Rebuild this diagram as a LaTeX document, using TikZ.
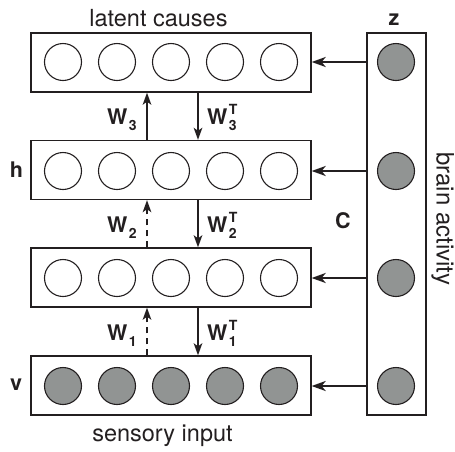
\documentclass[tikz,border=0pt]{standalone}
\usepackage{fontspec}
\setmainfont{TeX Gyre Heros}
\usetikzlibrary{arrows.meta,calc}
\definecolor{unitgray}{RGB}{145,148,147}
\definecolor{ink}{RGB}{35,31,32}
\newcommand\txtfont{\fontsize{23.5}{28}\selectfont}
\newcommand\sidefont{\fontsize{24}{28}\selectfont}
\newcommand\lblfont{\fontsize{21.5}{25}\selectfont\bfseries}
\newcommand\subfont{\fontsize{14}{16}\selectfont\bfseries}
\newcommand\wsub[1]{W\kern1.5pt\raisebox{-6pt}{\subfont #1}}
\newcommand\wsubt[1]{W\kern1.5pt\rlap{\raisebox{10pt}{\subfont T}}\raisebox{-6pt}{\subfont #1}}
\begin{document}
\begin{tikzpicture}[x=1pt,y=-1pt,
  layer/.style={draw=ink,line width=1.3pt,minimum width=280pt,minimum height=59pt,inner sep=0pt},
  unit/.style={circle,draw=ink,line width=1.1pt,minimum size=37pt,inner sep=0pt,fill=white},
  obs/.style={unit,fill=unitgray},
  harrow/.style={draw=ink,line width=2.2pt,-{Stealth[length=14pt,width=10pt,inset=4pt]}},
  varrow/.style={draw=ink,line width=2pt,-{Stealth[length=12pt,width=8.5pt,inset=3pt]}},
  dashedarrow/.style={varrow,dash pattern=on 6pt off 5pt},
  txt/.style={font=\txtfont,text=ink,inner sep=0pt,anchor=base},
  lbl/.style={font=\lblfont,text=ink,inner sep=0pt,anchor=base},
  wlbl/.style={font=\lblfont,text=ink,inner sep=0pt,anchor=base west}]
\useasboundingbox (0,0) rectangle (455,451);

% four layers of units
\node[layer] (L1) at (171,62.5) {};
\node[layer] (L2) at (171,170) {};
\node[layer] (L3) at (171,277.5) {};
\node[layer] (L4) at (171,385.5) {};
\foreach \i/\x in {1/63,2/117,3/171,4/225,5/279}{
  \node[unit] (u1-\i) at (\x,62) {};
  \node[unit] (u2-\i) at (\x,171) {};
  \node[unit] (u3-\i) at (\x,278) {};
  \node[obs]  (u4-\i) at (\x,386) {};
}

% brain activity column
\node[draw=ink,line width=1.3pt,minimum width=59pt,minimum height=382pt,inner sep=0pt] (Z) at (396.5,224) {};
\node[obs] (z1) at (396,62) {};
\node[obs] (z2) at (396,171) {};
\node[obs] (z3) at (396,278) {};
\node[obs] (z4) at (396,386) {};

% mapping C from brain activity to every layer
\foreach \k in {1,2,3,4}{
  \draw[harrow] (Z.west |- z\k) -- (L\k.east |- z\k);
}

% recognition (up) and generative (down) weights
\coordinate (ux) at (147,0);
\coordinate (dx) at (198,0);
\draw[varrow] (L2.north -| ux) -- (L1.south -| ux);
\draw[varrow] (L1.south -| dx) -- (L2.north -| dx);
\draw[dashedarrow] (L3.north -| ux) -- (L2.south -| ux);
\draw[varrow] (L2.south -| dx) -- (L3.north -| dx);
\draw[dashedarrow] (L4.north -| ux) -- (L3.south -| ux);
\draw[varrow] (L3.south -| dx) -- (L4.north -| dx);

\node[wlbl] (w3) at (107,124) {\wsub{3}};
\node[wlbl] (w3t) at (207,124) {\wsubt{3}};
\node[wlbl] (w2) at (107,232) {\wsub{2}};
\node[wlbl] (w2t) at (207,232) {\wsubt{2}};
\node[wlbl] (w1) at (107,340) {\wsub{1}};
\node[wlbl] (w1t) at (207,340) {\wsubt{1}};

% texts
\node[txt] (top) at (158.5,26) {latent causes};
\node[txt] (bottom) at (162.5,441) {sensory input};
\node[txt,font=\sidefont,rotate=-90] (brain) at (436.5,219) {brain activity};
\node[lbl] (hl) at (16.5,177) {h};
\node[lbl] (vl) at (16,390) {v};
\node[lbl] (zl) at (394,25) {z};
\node[lbl] (cl) at (343,228) {C};
\end{tikzpicture}
\end{document}
